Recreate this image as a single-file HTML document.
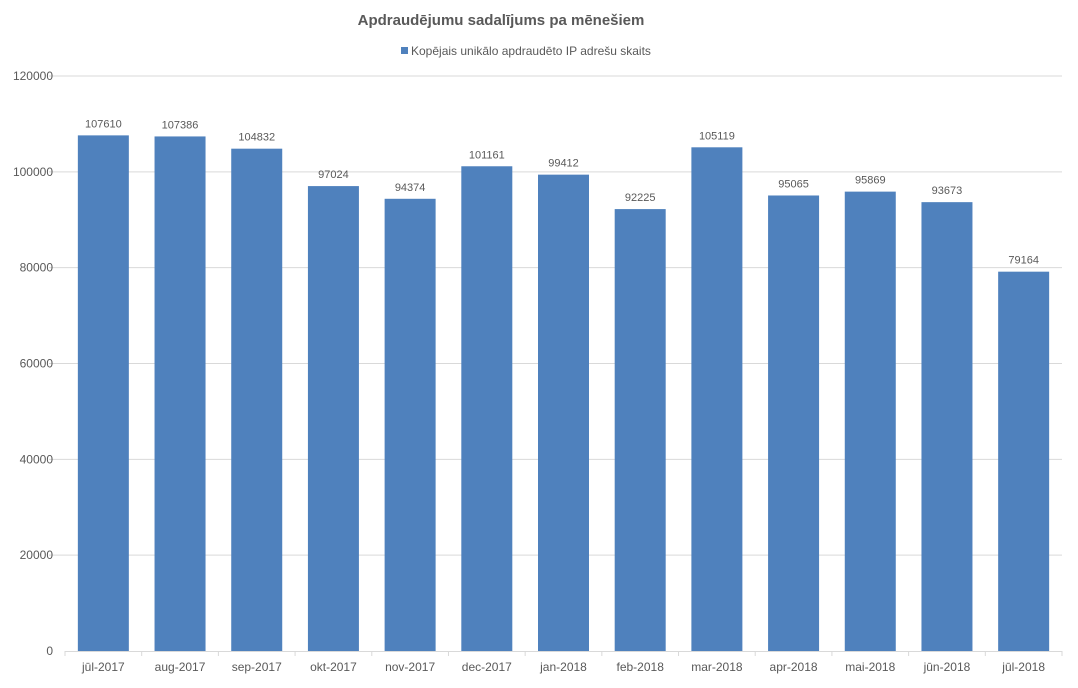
<!DOCTYPE html>
<html><head><meta charset="utf-8"><style>
body{margin:0;background:#fff;}
svg text{font-family:"Liberation Sans","DejaVu Sans",sans-serif;}
</style></head><body>
<svg width="1078" height="683" viewBox="0 0 1078 683">
<text x="501" y="25" text-anchor="middle" font-size="15" font-weight="bold" fill="#595959">Apdraudējumu sadalījums pa mēnešiem</text>
<g>
<rect x="401" y="47" width="7" height="7" fill="#4f81bd"></rect>
<text x="411" y="55" font-size="12" fill="#595959">Kopējais unikālo apdraudēto IP adrešu skaits</text>
</g>
<g id="grid"></g><g id="bars"></g><g id="axes"></g>
</svg>
<script>
const categories=["jūl-2017","aug-2017","sep-2017","okt-2017","nov-2017","dec-2017","jan-2018","feb-2018","mar-2018","apr-2018","mai-2018","jūn-2018","jūl-2018"];
const values=[107610,107386,104832,97024,94374,101161,99412,92225,105119,95065,95869,93673,79164];
const yTicks=[0,20000,40000,60000,80000,100000,120000];
const NS="http://www.w3.org/2000/svg";
const x0=65,x1=1062,yBase=651,yTop=76,yMax=120000;
const bw=(x1-x0)/categories.length;
function y(v){return yBase-(v/yMax)*(yBase-yTop);}
function xc(i){return x0+bw*(i+0.5);}
function mk(t,a,p){const e=document.createElementNS(NS,t);for(const k in a)e.setAttribute(k,a[k]);p.appendChild(e);return e;}
const grid=document.getElementById('grid'),bars=document.getElementById('bars'),axes=document.getElementById('axes');
yTicks.forEach(t=>{
  if(t>0){const l=mk('line',{x1:49,x2:x1,y1:y(t),y2:y(t),stroke:'#d9d9d9','stroke-width':1},grid);
  
  }
  const tx=mk('text',{x:53,y:y(t)+4,'text-anchor':'end','font-size':12,fill:'#595959'},axes);
  tx.textContent=t;
  
  
});
const ax=mk('line',{x1:x0,x2:x1,y1:yBase+0.5,y2:yBase+0.5,stroke:'#d9d9d9','stroke-width':1},axes);


for(let i=0;i<=categories.length;i++){
  const tk=mk('line',{x1:x0+bw*i,x2:x0+bw*i,y1:yBase,y2:yBase+5,stroke:'#d9d9d9'},axes);
  
  
}
categories.forEach((c,i)=>{
  const v=values[i];
  const r=mk('rect',{x:xc(i)-25.5,y:y(v),width:51,height:yBase-y(v),fill:'#4f81bd'},bars);
  
  
  const vl=mk('text',{x:xc(i),y:y(v)-8,'text-anchor':'middle','font-size':11,fill:'#595959'},bars);
  vl.textContent=v;
  
  
  const cl=mk('text',{x:xc(i),y:671,'text-anchor':'middle','font-size':12,fill:'#595959'},axes);
  cl.textContent=c;
  
  
});
</script>
</body></html>
